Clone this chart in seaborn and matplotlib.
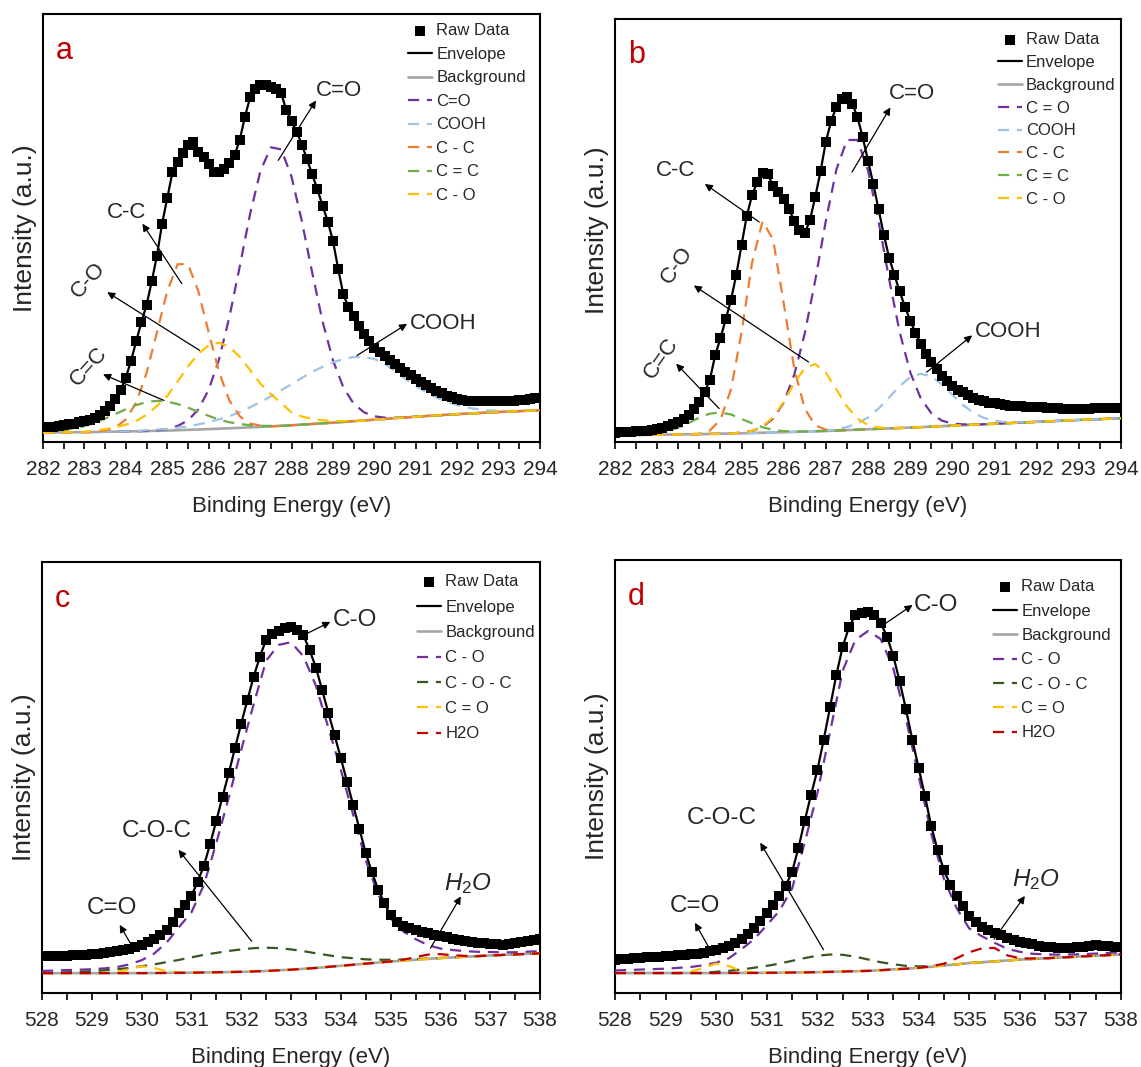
import numpy as np
import matplotlib
matplotlib.use("Agg")
import matplotlib.pyplot as plt
import seaborn as sns

# energy grids (eV): fitted curves on 0.25 eV steps, raw data on 0.125 eV steps
c1s_energy = np.arange(282.0, 294.001, 0.25)
o1s_energy = np.arange(528.0, 538.001, 0.25)
c1s_raw_energy = np.arange(282.0, 294.001, 0.125)
o1s_raw_energy = np.arange(528.0, 538.001, 0.125)

# ---------------- (a) C 1s ----------------
a_raw = [3.4, 3.5, 3.6, 3.75, 3.9, 4.1, 4.3, 4.6,
         4.9, 5.2, 5.6, 6.3, 7.2, 8.4, 10.0, 12.2,
         15.0, 19.0, 23.5, 28.0, 32.0, 37.5, 43.5, 51.0,
         57.0, 63.0, 65.5, 67.6, 69.5, 70.0, 67.8, 66.5,
         65.0, 63.0, 63.0, 63.8, 65.2, 67.0, 70.6, 76.0,
         80.5, 82.5, 83.3, 83.5, 83.0, 82.5, 81.5, 77.5,
         75.0, 72.5, 69.5, 66.0, 62.5, 59.0, 55.2, 51.5,
         47.0, 40.5, 34.5, 31.5, 29.5, 27.0, 25.3, 23.5,
         22.0, 21.0, 20.0, 19.1, 18.2, 17.3, 16.4, 15.6,
         14.8, 14.0, 13.3, 12.6, 12.0, 11.4, 10.8, 10.4,
         10.0, 9.8, 9.6, 9.5, 9.5, 9.5, 9.5, 9.5,
         9.5, 9.5, 9.6, 9.6, 9.7, 9.8, 10.0, 10.2,
         10.3]
a_bg = [2.2, 2.22, 2.25, 2.27, 2.3, 2.34, 2.38, 2.41, 2.45, 2.5, 2.55, 2.6,
        2.65, 2.74, 2.83, 2.91, 3.0, 3.1, 3.2, 3.3, 3.4, 3.52, 3.65, 3.77,
        3.9, 4.05, 4.2, 4.35, 4.5, 4.67, 4.85, 5.02, 5.2, 5.37, 5.55, 5.72,
        5.9, 6.05, 6.2, 6.35, 6.5, 6.62, 6.75, 6.87, 7.0, 7.1, 7.2, 7.3, 7.4]
# fitted components: height above background, starting at a_starts
a_labels = ["C=O", "COOH", "C - C", "C = C", "C - O"]
a_starts = [284.75, 284.5, 283.5, 282.0, 283.25]
a_co = [0.1, 0.4, 1.0, 2.2, 4.7, 9.2, 16.2, 26.0, 37.7, 49.9, 59.8, 65.2,
        64.6, 58.1, 47.5, 35.3, 23.8, 14.6, 8.1, 4.1, 1.9, 0.8, 0.3, 0.1]
a_cooh = [0.2, 0.3, 0.4, 0.6, 0.8, 1.2, 1.6, 2.2, 2.8, 3.7, 4.7, 5.8, 7.0,
          8.3, 9.6, 10.9, 12.2, 13.2, 14.1, 14.7, 15.0, 14.8, 14.2, 13.0, 11.0,
          9.0, 7.2, 5.6, 4.2, 3.0, 2.1, 1.4, 0.9, 0.5, 0.3, 0.15, 0.05]
a_cc = [0.3, 1.0, 2.8, 6.7, 13.6, 23.0, 32.6, 38.8, 38.7, 32.3, 22.6, 13.2,
        6.5, 2.7, 0.9, 0.3]
a_c2c = [0.1, 0.25, 0.5, 0.9, 1.4, 2.1, 3.1, 4.1, 5.2, 6.1, 6.8, 7.0, 6.8,
         6.1, 5.2, 4.1, 3.1, 2.1, 1.4, 0.9, 0.5, 0.25, 0.1]
a_c_o = [0.3, 0.6, 1.0, 1.6, 2.4, 3.8, 5.8, 8.1, 11.4, 14.8, 17.7, 19.6, 20.1,
         19.0, 16.6, 13.4, 10.1, 7.5, 5.3, 3.0, 1.9, 1.2, 0.7, 0.4, 0.2]

# ---------------- (b) C 1s ----------------
b_raw = [2.2, 2.25, 2.3, 2.4, 2.5, 2.6, 2.7, 2.85,
         3.0, 3.3, 3.7, 4.2, 4.8, 5.5, 6.4, 7.8,
         9.5, 11.8, 14.7, 20.5, 24.5, 29.0, 33.5, 39.5,
         46.5, 53.5, 58.3, 61.5, 63.5, 63.3, 60.5, 59.0,
         57.5, 55.0, 52.3, 50.0, 49.3, 52.5, 58.0, 64.0,
         71.0, 75.8, 79.3, 81.0, 81.5, 80.0, 76.8, 72.0,
         66.5, 61.0, 55.0, 49.0, 43.6, 39.5, 35.6, 32.0,
         28.7, 25.8, 23.2, 20.8, 18.8, 17.2, 15.7, 14.4,
         13.2, 12.4, 11.7, 11.0, 10.5, 10.0, 9.6, 9.3,
         9.1, 8.9, 8.7, 8.6, 8.5, 8.4, 8.3, 8.25,
         8.2, 8.15, 8.1, 8.05, 8.0, 7.9, 7.8, 7.7,
         7.7, 7.8, 7.9, 8.0, 8.1, 8.1, 8.0, 8.0,
         8.0]
b_bg = [1.6, 1.62, 1.65, 1.67, 1.7, 1.74, 1.78, 1.81, 1.85, 1.9, 1.95, 2.0,
        2.05, 2.11, 2.18, 2.24, 2.3, 2.38, 2.45, 2.52, 2.6, 2.7, 2.8, 2.9,
        3.0, 3.1, 3.2, 3.3, 3.4, 3.51, 3.62, 3.74, 3.85, 3.96, 4.08, 4.19,
        4.3, 4.41, 4.52, 4.64, 4.75, 4.86, 4.98, 5.09, 5.2, 5.3, 5.4, 5.5, 5.6]
b_labels = ["C = O", "COOH", "C - C", "C = C", "C - O"]
b_starts = [285.0, 287.0, 284.0, 282.75, 285.0]
b_co = [0.2, 0.5, 1.4, 3.3, 7.0, 13.5, 23.2, 35.8, 49.7, 61.7, 68.6, 68.5,
        61.2, 49.1, 35.3, 22.7, 13.1, 6.8, 3.2, 1.3, 0.5, 0.2]
b_cooh = [0.1, 0.3, 0.7, 1.5, 2.8, 4.8, 7.3, 9.9, 11.9, 12.6, 11.9, 9.9, 7.3,
          4.8, 2.8, 1.5, 0.7, 0.3, 0.1]
b_cc = [0.1, 0.8, 3.3, 10.4, 23.8, 40.3, 50.0, 45.6, 30.5, 15.0, 5.4, 1.4, 0.3]
b_c2c = [0.15, 0.4, 0.85, 1.6, 2.7, 3.9, 4.8, 5.0, 4.5, 3.4, 2.3, 1.3, 0.6,
         0.26, 0.1]
b_c_o = [0.14, 0.5, 1.5, 3.6, 7.2, 11.5, 15.0, 15.9, 13.8, 9.7, 5.6, 2.6, 1.0,
         0.3, 0.1]

# ---------------- (c) O 1s ----------------
c_raw = [8.5, 8.5, 8.5, 8.55, 8.6, 8.7, 8.8, 8.9,
         9.0, 9.15, 9.3, 9.5, 9.7, 10.0, 10.3, 10.7,
         11.2, 11.8, 12.5, 13.5, 14.7, 16.5, 18.5, 20.3,
         22.5, 25.8, 29.5, 34.5, 40.0, 45.5, 51.0, 56.8,
         62.5, 68.0, 73.4, 78.0, 82.0, 83.3, 84.0, 84.6,
         85.0, 84.3, 83.0, 79.5, 75.5, 70.3, 65.0, 59.8,
         54.5, 49.0, 43.5, 38.0, 32.5, 28.0, 24.0, 20.8,
         18.0, 16.5, 15.5, 15.0, 14.6, 14.2, 13.9, 13.5,
         13.2, 12.9, 12.6, 12.3, 12.0, 11.8, 11.7, 11.5,
         11.4, 11.3, 11.2, 11.3, 11.5, 11.8, 12.0, 12.2,
         12.5]
c_bg = [4.6, 4.6, 4.6, 4.6, 4.6, 4.6, 4.6, 4.6, 4.6, 4.62, 4.65, 4.67, 4.7,
        4.75, 4.8, 4.85, 4.9, 5.0, 5.1, 5.25, 5.4, 5.6, 5.8, 6.05, 6.3, 6.55,
        6.8, 7.05, 7.3, 7.5, 7.7, 7.9, 8.1, 8.25, 8.4, 8.55, 8.7, 8.82, 8.95,
        9.07, 9.2]
c_labels = ["C - O", "C - O - C", "C = O", "H2O"]
c_starts = [528.0, 528.5, 529.5, 535.25]
c_co = [0.5, 0.6, 0.7, 0.8, 0.9, 1.1, 1.4, 2.0, 3.0, 4.5, 7.0, 10.6, 14.0,
        20.3, 30.0, 40.5, 51.5, 62.0, 72.0, 75.5, 76.0, 72.5, 65.5, 55.5, 45.5,
        34.7, 24.0, 15.8, 10.0, 6.8, 4.8, 3.2, 2.2, 1.7, 1.3, 1.0, 0.8, 0.6,
        0.5, 0.5, 0.5]
c_coc = [0.2, 0.3, 0.46, 0.65, 0.9, 1.2, 1.6, 2.0, 2.5, 3.0, 3.55, 4.1, 4.5,
         4.9, 5.2, 5.4, 5.4, 5.15, 4.7, 4.1, 3.4, 2.7, 2.0, 1.5, 1.0, 0.66, 0.4,
         0.25, 0.15, 0.08]
c_c2o = [0.2, 0.9, 1.6, 1.2, 0.4, 0.1]
c_h2o = [0.2, 0.6, 1.0, 0.9, 0.5, 0.2]

# ---------------- (d) O 1s ----------------
d_raw = [7.7, 7.8, 7.9, 8.0, 8.1, 8.2, 8.3, 8.4,
         8.5, 8.6, 8.7, 8.8, 8.9, 9.1, 9.3, 9.6,
         9.9, 10.3, 10.8, 11.5, 12.4, 13.5, 14.9, 16.7,
         18.5, 20.2, 22.3, 24.8, 28.0, 33.5, 39.8, 45.8,
         51.5, 58.5, 66.0, 73.5, 80.0, 84.5, 87.3, 87.8,
         88.0, 87.2, 85.5, 82.3, 77.8, 72.0, 65.5, 58.5,
         52.0, 45.5, 38.5, 33.0, 28.3, 25.0, 22.5, 20.0,
         17.8, 16.5, 15.3, 14.5, 13.8, 13.3, 12.8, 12.3,
         11.8, 11.5, 11.2, 10.9, 10.7, 10.5, 10.4, 10.4,
         10.4, 10.5, 10.6, 10.8, 11.0, 10.9, 10.8, 10.6,
         10.5]
d_bg = [4.6, 4.6, 4.6, 4.6, 4.6, 4.6, 4.6, 4.6, 4.6, 4.61, 4.62, 4.63, 4.65,
        4.68, 4.72, 4.76, 4.8, 4.87, 4.95, 5.02, 5.1, 5.25, 5.45, 5.6, 5.8, 6.05,
        6.35, 6.6, 6.9, 7.1, 7.3, 7.5, 7.7, 7.85, 8.0, 8.15, 8.3, 8.45, 8.6,
        8.75, 8.9]
d_labels = ["C - O", "C - O - C", "C = O", "H2O"]
d_starts = [528.0, 530.0, 529.5, 534.25]
d_co = [0.6, 0.7, 0.8, 0.9, 1.0, 1.2, 1.4, 1.8, 2.4, 3.4, 5.5, 7.8, 11.0,
        14.3, 19.4, 30.0, 41.4, 55.4, 69.5, 76.5, 78.5, 76.5, 69.5, 57.7, 44.4,
        30.7, 20.0, 13.0, 8.0, 6.0, 4.3, 2.7, 1.8, 1.2, 0.9, 0.7, 0.6, 0.5, 0.5,
        0.5, 0.5]
d_coc = [0.3, 0.5, 0.8, 1.2, 1.6, 2.1, 2.7, 3.3, 3.8, 4.0, 3.86, 3.36, 2.63,
         1.85, 1.17, 0.66, 0.34, 0.15, 0.06]
d_c2o = [0.3, 1.2, 2.2, 1.6, 0.4, 0.1]
d_h2o = [0.1, 0.4, 1.4, 2.5, 3.2, 3.1, 1.2, 0.3, 0.1]

# peak labels with arrows: text, text position, arrow tail, arrow head, rotation
a_notes = [("C=O", (289.15, 82.1), (287.68, 65.8), (288.59, 79.8), 0),
           ("C-C", (284.01, 53.7), (285.35, 37.0), (284.4, 51.0), 0),
           ("C-O", (283.1, 37.7), (285.78, 21.4), (283.55, 35.0), 48),
           ("C=C", (283.1, 17.5), (284.92, 9.7), (283.45, 15.8), 48),
           ("COOH", (291.65, 27.6), (289.58, 20.2), (290.79, 27.6), 0)]
b_notes = [("C=O", (289.04, 82.3), (287.62, 63.8), (288.53, 79.1), 0),
           ("C-C", (283.44, 64.2), (285.42, 52.0), (284.13, 61.0), 0),
           ("C-O", (283.48, 41.7), (286.59, 18.9), (283.87, 37.0), 55),
           ("C=C", (283.09, 19.7), (284.47, 7.9), (283.45, 18.5), 55),
           ("COOH", (291.33, 26.0), (289.39, 16.5), (290.47, 25.2), 0)]
c_notes = [("C-O", (534.29, 86.5), (533.32, 83.4), (533.79, 86.1), 0),
           ("C-O-C", (530.31, 37.5), (532.21, 12.0), (530.74, 33.2), 0),
           ("C=O", (529.41, 19.7), (529.77, 11.6), (529.56, 15.8), 0),
           (r"$H_2O$", (536.55, 25.5), (535.8, 10.4), (536.41, 22.4), 0)]
d_notes = [("C-O", (534.34, 89.6), (533.34, 85.3), (533.88, 89.6), 0),
           ("C-O-C", (530.11, 40.5), (532.12, 10.0), (530.87, 34.7), 0),
           ("C=O", (529.58, 20.1), (529.86, 10.4), (529.58, 16.2), 0),
           (r"$H_2O$", (536.32, 26.3), (535.49, 12.4), (536.1, 22.4), 0)]

c1s_colors = ["#7030A0", "#9DC3E6", "#ED7D31", "#70AD47", "#FFC000"]
o1s_colors = ["#7030A0", "#375623", "#FFC000", "#C00000"]

sns.set_theme(style="ticks")
plt.rcParams["font.family"] = ["Liberation Sans", "DejaVu Sans"]
plt.rcParams["mathtext.fontset"] = "custom"
plt.rcParams["mathtext.rm"] = "Liberation Sans"
plt.rcParams["mathtext.it"] = "Liberation Sans:italic"


def component_curve(energy, bg, start, amps):
    y = np.array(bg, dtype=float)
    i0 = int(round((start - energy[0]) / 0.25))
    y[i0:i0 + len(amps)] += np.array(amps)
    return y


def draw_panel(ax, energy, raw_energy, raw, bg, labels, colors, starts, amps,
               notes, letter, note_size, leg_xy, leg_space):
    sns.scatterplot(x=raw_energy, y=raw, ax=ax, marker="s", s=56,
                    color="black", linewidth=0, zorder=4, label="Raw Data")
    sns.lineplot(x=raw_energy, y=raw, ax=ax, color="black", lw=1.6, zorder=5,
                 label="Envelope")
    sns.lineplot(x=energy, y=bg, ax=ax, color="#A6A6A6", lw=1.9, zorder=2,
                 label="Background")
    for lab, col, st, amp in zip(labels, colors, starts, amps):
        sns.lineplot(x=energy, y=component_curve(energy, bg, st, amp), ax=ax,
                     color=col, lw=1.6, linestyle=(0, (5, 3.5)), zorder=3,
                     label=lab)

    for text, txy, tail, head, rot in notes:
        ax.annotate("", xy=head, xytext=tail,
                    arrowprops=dict(arrowstyle="-|>", color="black", lw=0.9,
                                    mutation_scale=11, shrinkA=0, shrinkB=0))
        ax.text(txy[0], txy[1], text, ha="center", va="center",
                fontsize=note_size, rotation=rot)

    ax.text(0.026, 0.895, letter, transform=ax.transAxes, color="#C00000",
            fontsize=22, va="baseline")

    lo, hi = energy[0], energy[-1]
    ax.set_xlim(lo, hi)
    ax.set_ylim(0, 100)
    ax.set_xticks(np.arange(lo, hi + 0.5, 1.0))
    ax.set_xticks(np.arange(lo + 0.5, hi, 1.0), minor=True)
    ax.set_xticklabels([f"{v:.0f}" for v in np.arange(lo, hi + 0.5, 1.0)])
    ax.set_yticks([])
    ax.tick_params(axis="x", which="both", direction="out", length=5,
                   width=1.2, labelsize=15, pad=8, color="black")
    for s in ax.spines.values():
        s.set_linewidth(1.5)
        s.set_color("black")
    ax.set_xlabel("Binding Energy (eV)", fontsize=16, labelpad=12)
    ax.set_ylabel("Intensity (a.u.)", fontsize=19, labelpad=4)

    handles, leg_labels = ax.get_legend_handles_labels()
    ax.legend(handles, leg_labels, loc="upper left", bbox_to_anchor=leg_xy,
              frameon=False, fontsize=12, handlelength=1.45,
              handletextpad=0.25, labelspacing=leg_space, borderpad=0,
              borderaxespad=0)


fig = plt.figure(figsize=(11.41, 10.67), dpi=100)
ax_a = fig.add_axes([0.0377, 0.5858, 0.4356, 0.4011])
ax_b = fig.add_axes([0.5390, 0.5858, 0.4435, 0.3964])
ax_c = fig.add_axes([0.0368, 0.0694, 0.4365, 0.4039])
ax_d = fig.add_axes([0.5390, 0.0694, 0.4435, 0.4058])

draw_panel(ax_a, c1s_energy, c1s_raw_energy, a_raw, a_bg, a_labels,
           c1s_colors, a_starts, [a_co, a_cooh, a_cc, a_c2c, a_c_o], a_notes,
           "a", 16, (0.734, 0.978), 0.51)
draw_panel(ax_b, c1s_energy, c1s_raw_energy, b_raw, b_bg, b_labels,
           c1s_colors, b_starts, [b_co, b_cooh, b_cc, b_c2c, b_c_o], b_notes,
           "b", 16, (0.756, 0.969), 0.47)
draw_panel(ax_c, o1s_energy, o1s_raw_energy, c_raw, c_bg, c_labels,
           o1s_colors, c_starts, [c_co, c_coc, c_c2o, c_h2o], c_notes,
           "c", 17.5, (0.753, 0.971), 0.62)
draw_panel(ax_d, o1s_energy, o1s_raw_energy, d_raw, d_bg, d_labels,
           o1s_colors, d_starts, [d_co, d_coc, d_c2o, d_h2o], d_notes,
           "d", 17.5, (0.747, 0.955), 0.56)

fig.savefig("out.png", dpi=100)
